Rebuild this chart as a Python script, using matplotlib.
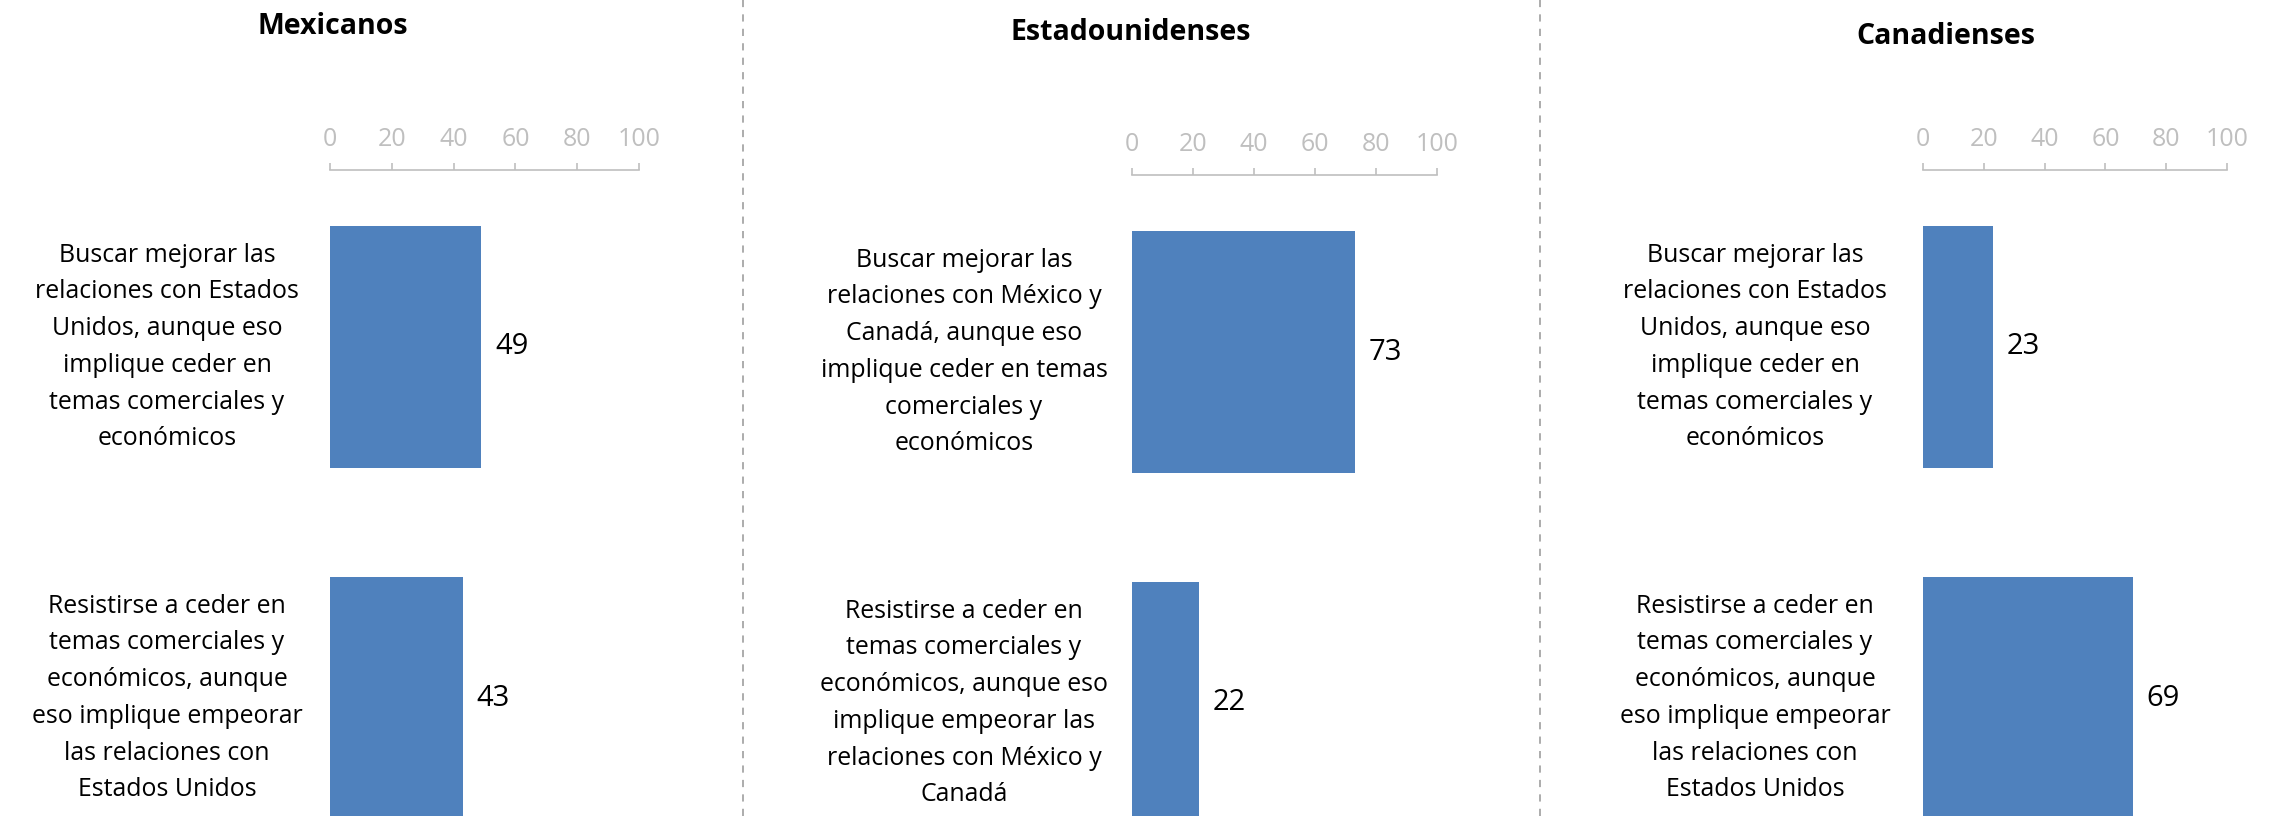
import matplotlib.pyplot as plt
from matplotlib.lines import Line2D

plt.rcParams['font.family'] = ['Open Sans', 'DejaVu Sans']

# datos
grupos = ["Mexicanos", "Estadounidenses", "Canadienses"]
etiquetas = [
    ["Buscar mejorar las\nrelaciones con Estados\nUnidos, aunque eso\nimplique ceder en\ntemas comerciales y\neconómicos",
     "Resistirse a ceder en\ntemas comerciales y\neconómicos, aunque\neso implique empeorar\nlas relaciones con\nEstados Unidos"],
    ["Buscar mejorar las\nrelaciones con México y\nCanadá, aunque eso\nimplique ceder en temas\ncomerciales y\neconómicos",
     "Resistirse a ceder en\ntemas comerciales y\neconómicos, aunque eso\nimplique empeorar las\nrelaciones con México y\nCanadá"],
    ["Buscar mejorar las\nrelaciones con Estados\nUnidos, aunque eso\nimplique ceder en\ntemas comerciales y\neconómicos",
     "Resistirse a ceder en\ntemas comerciales y\neconómicos, aunque\neso implique empeorar\nlas relaciones con\nEstados Unidos"],
]
valores = [[49, 43], [73, 22], [23, 69]]
ticks = [0, 20, 40, 60, 80, 100]

W, H = 2272, 816
AZUL = "#4F81BD"
GRIS = "#BFBFBF"

fig = plt.figure(figsize=(W / 100, H / 100), dpi=100)

# (izquierda, derecha, y del eje, centro del titulo x, y del titulo) en pixeles
paneles = [
    (330, 639, 170, 333, 26),
    (1132, 1437, 175, 1131, 32),
    (1923, 2227, 170, 1946, 36),
]
centros_txt = [167, 964, 1755]
paso = 351  # pixeles entre barras

for i, (x0, x1, ytop, tx, ty) in enumerate(paneles):
    ax = fig.add_axes([x0 / W, 0, (x1 - x0) / W, 1 - ytop / H])
    # centro de la primera barra 177 px debajo del eje
    arriba = -177 / paso
    abajo = arriba + (H - ytop) / paso
    ax.barh(range(2), valores[i], height=242 / paso, color=AZUL)
    ax.set_ylim(abajo, arriba)
    ax.set_xlim(0, 100)
    ax.xaxis.tick_top()
    ax.set_xticks(ticks)
    ax.tick_params(axis='x', colors=GRIS, labelsize=18, length=5, width=1.2, pad=8)
    ax.tick_params(axis='y', left=False, labelleft=False)
    for s in ['left', 'right', 'bottom']:
        ax.spines[s].set_visible(False)
    ax.spines['top'].set_color(GRIS)
    ax.spines['top'].set_linewidth(1.2)
    ax.set_facecolor('none')
    for cont in ax.containers:
        ax.bar_label(cont, padding=10, fontsize=21, color='black')
    desplaz = (centros_txt[i] - x0) * 0.72  # pixeles -> puntos
    for j, txt in enumerate(etiquetas[i]):
        ax.annotate(txt, xy=(0, j), xycoords=('axes fraction', 'data'),
                    xytext=(desplaz, 0), textcoords='offset points',
                    ha='center', va='center', fontsize=17.9, linespacing=1.62,
                    annotation_clip=False)
    fig.text(tx / W, 1 - ty / H, grupos[i], ha='center', va='center',
             fontsize=20.5, fontweight='bold')

# separadores
for xs in [743, 1540]:
    fig.add_artist(Line2D([xs / W, xs / W], [0, 1], color="#A6A6A6",
                          linestyle=(0, (4, 4)), linewidth=1.3))

fig.savefig("out.png", dpi=100)
